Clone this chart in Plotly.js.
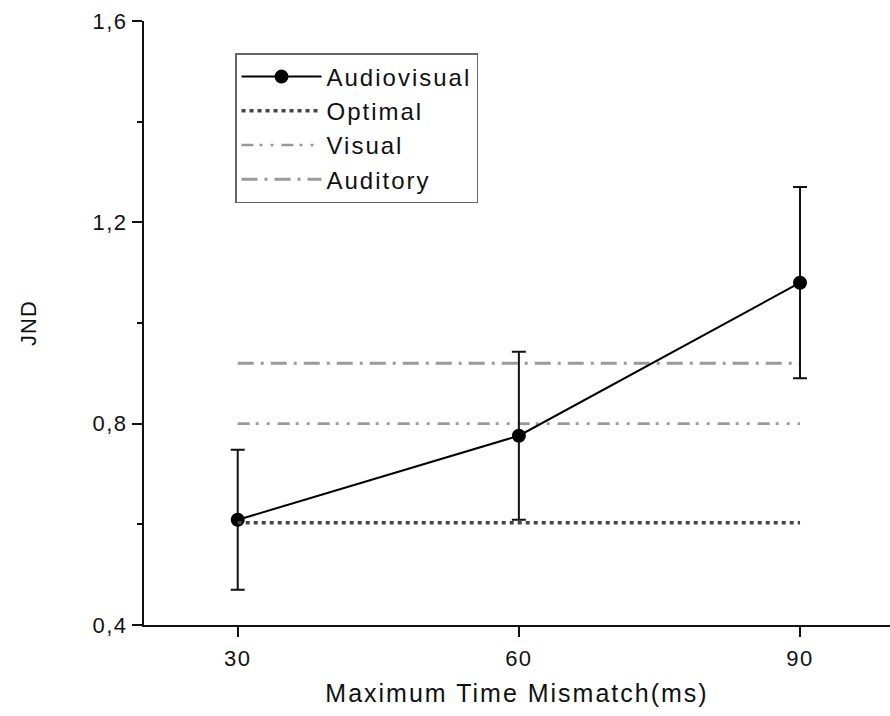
<!DOCTYPE html>
<html>
<head>
<meta charset="utf-8">
<script src="https://cdn.plot.ly/plotly-3.0.1.min.js"></script>
<style>
html,body{margin:0;padding:0;background:#fff;}
#chart{width:890px;height:716px;}
text{letter-spacing:1.5px;}
text.legendtext{letter-spacing:2px;}
text.xtitle{letter-spacing:2px;}
text.ytitle{letter-spacing:1px;}
</style>
</head>
<body>
<div id="chart"></div>
<script>
// Data
const mismatch = [30, 60, 90];
const audiovisual = [0.609, 0.776, 1.08];
const audiovisualErr = [0.139, 0.167, 0.19];
const optimalX = [30, 90];
const optimal = [0.603, 0.603];
const visualX = [30, 90];
const visual = [0.8, 0.8];
const auditoryX = [30, 90];
const auditory = [0.92, 0.92];
const yTickVals = [0.4, 0.8, 1.2, 1.6];
const yTickText = ["0,4", "0,8", "1,2", "1,6"];
const xTickVals = [30, 60, 90];

const traces = [
  {
    x: auditoryX, y: auditory, mode: 'lines', name: 'Auditory', legendrank: 4,
    line: {color: '#999999', width: 3, dash: '16px,7px,3px,7px'}
  },
  {
    x: visualX, y: visual, mode: 'lines', name: 'Visual', legendrank: 3,
    line: {color: '#9a9a9a', width: 2.6, dash: '12px,6px,3px,8px,3px,8px'}
  },
  {
    x: mismatch, y: audiovisual, mode: 'lines+markers', name: 'Audiovisual', legendrank: 1,
    line: {color: '#000000', width: 2},
    marker: {color: '#000000', size: 14},
    error_y: {type: 'data', array: audiovisualErr, visible: true, color: '#111111', thickness: 2, width: 7}
  },
  {
    x: optimalX, y: optimal, mode: 'lines', name: 'Optimal', legendrank: 2,
    line: {color: '#444444', width: 3.5, dash: '4px,4px'}
  }
];

const layout = {
  width: 890, height: 716,
  margin: {l: 144, r: 0, t: 21, b: 91},
  paper_bgcolor: '#ffffff', plot_bgcolor: '#ffffff',
  font: {family: '"Liberation Sans", Arial, sans-serif', color: '#111111', size: 22},
  showlegend: true,
  legend: {
    x: 0.122, y: 0.947, xanchor: 'left', yanchor: 'top',
    bordercolor: '#666666', borderwidth: 1.5, bgcolor: '#ffffff',
    font: {size: 24, color: '#111111'},
    itemwidth: 80,
    traceorder: 'normal'
  },
  xaxis: {
    range: [20, 99.6], showgrid: false, zeroline: false,
    showline: true, linecolor: '#111111', linewidth: 2,
    tickmode: 'array', tickvals: xTickVals,
    ticks: 'outside', ticklen: 10, tickwidth: 2, tickcolor: '#111111',
    tickfont: {size: 22}, ticklabelstandoff: 3,
    title: {text: 'Maximum Time Mismatch(ms)', font: {size: 25}, standoff: 14}
  },
  yaxis: {
    range: [0.4, 1.6], showgrid: false, zeroline: false,
    showline: true, linecolor: '#111111', linewidth: 2,
    tickmode: 'array', tickvals: yTickVals, ticktext: yTickText,
    ticks: 'outside', ticklen: 10, tickwidth: 2, tickcolor: '#111111',
    tickfont: {size: 22},
    minor: {dtick: 0.2, tick0: 0.4, ticks: 'outside', ticklen: 5, tickwidth: 2, tickcolor: '#111111'},
    title: {text: 'JND', font: {size: 22}, standoff: 50}
  }
};

Plotly.newPlot('chart', traces, layout, {displayModeBar: false, staticPlot: true});
</script>
</body>
</html>
